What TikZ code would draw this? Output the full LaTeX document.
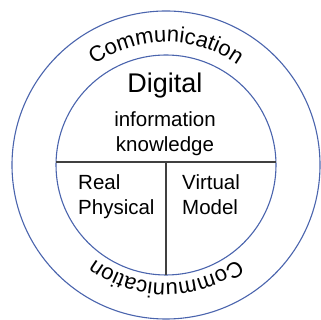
\documentclass[tikz,border=0pt]{standalone}
\usepackage{fontspec}
\setmainfont{Liberation Sans}
\usepackage{tikz}
\usetikzlibrary{decorations.text}
\definecolor{ringblue}{HTML}{4A64AD}
\definecolor{linegray}{HTML}{404040}
\newcommand\arcfont{\fontsize{22pt}{26pt}\selectfont}

\begin{document}
\begin{tikzpicture}[
  x=1pt, y=1pt,
  ring/.style={draw=ringblue, line width=1.1pt},
  split/.style={draw=linegray, line width=1.1pt},
  lbl/.style={font=\fontsize{20.5pt}{24pt}\selectfont, inner sep=0pt},
  arctext/.style={decorate, decoration={text along path, text align=center, text={|\arcfont|Communication}}},
  ]
  \useasboundingbox (0,0) rectangle (321,320);
  \coordinate (c) at (166,155);
  \draw[ring] (c) circle[radius=154];
  \draw[ring] (c) circle[radius=110];
  % dividing lines
  \coordinate (hl) at (56,158);
  \coordinate (hr) at (276,158);
  \coordinate (vt) at (166,158);
  \coordinate (vb) at (166,45);
  \draw[split] (hl) -- (hr);
  \draw[split] (vt) -- (vb);
  % ring labels
  \path[arctext] (c) ++(156:123) arc[start angle=156, end angle=24, radius=123];
  \path[arctext] (c) ++(-24:118) arc[start angle=-24, end angle=-156, radius=118];
  % inner labels
  \node[lbl, anchor=base, font=\fontsize{27pt}{30pt}\selectfont] (dig) at (165,227) {Digital};
  \node[lbl, anchor=base] (info) at (165,193) {information};
  \node[lbl, anchor=base] (know) at (165,168) {knowledge};
  \node[lbl, anchor=base west] (real) at (78,130) {Real};
  \node[lbl, anchor=base west] (phys) at (78,105) {Physical};
  \node[lbl, anchor=base west] (virt) at (182,130) {Virtual};
  \node[lbl, anchor=base west] (model) at (182,105) {Model};
\end{tikzpicture}
\end{document}
